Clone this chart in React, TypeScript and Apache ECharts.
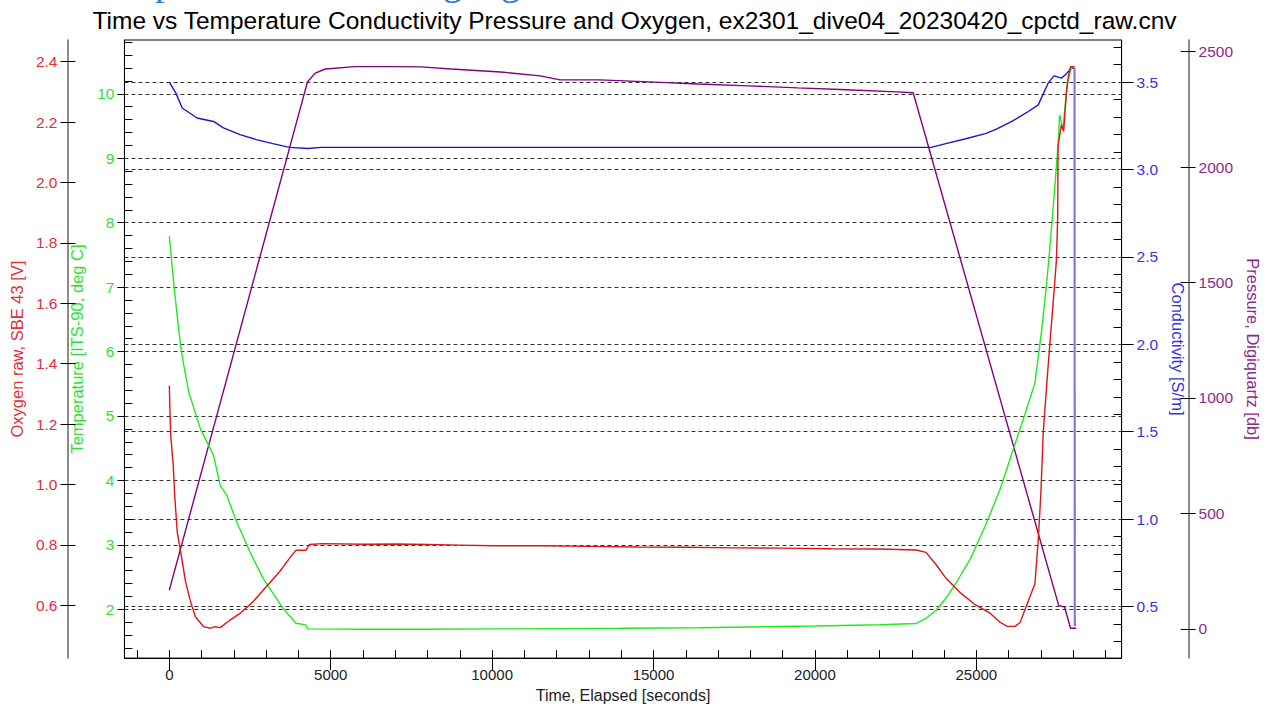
import React, { useEffect, useRef } from "react";
import * as echarts from "echarts";

// ---------- texts ----------
const TITLE =
  "Time vs Temperature Conductivity Pressure and Oxygen, ex2301_dive04_20230420_cpctd_raw.cnv";
const HEADER = "Temperature Monitoring log";
const X_NAME = "Time, Elapsed [seconds]";
const O2_NAME = "Oxygen raw, SBE 43 [V]";
const T_NAME = "Temperature [ITS-90, deg C]";
const C_NAME = "Conductivity [S/m]";
const P_NAME = "Pressure, Digiquartz [db]";

// ---------- tick labels ----------
const X_TICKS = [0, 5000, 10000, 15000, 20000, 25000];
const O2_TICKS = [0.6, 0.8, 1.0, 1.2, 1.4, 1.6, 1.8, 2.0, 2.2, 2.4];
const T_TICKS = [2, 3, 4, 5, 6, 7, 8, 9, 10];
const C_TICKS = [0.5, 1.0, 1.5, 2.0, 2.5, 3.0, 3.5];
const P_TICKS = [0, 500, 1000, 1500, 2000, 2500];

// ---------- series data (time in seconds) ----------
const O2_TIME = [
  0, 21, 43, 123, 166, 245, 368, 503, 656, 809, 1063, 1269, 1422, 1576, 1882, 2189,
  2597, 3004, 3415, 3722, 3924, 4231, 4335, 4743, 6000, 7000, 8000, 9000, 10000,
  11500, 13000, 14500, 16000, 17500, 19000, 20500, 22000, 23136, 23440, 23750, 24056,
  24516, 24975, 25435, 25741, 25956, 26200, 26354, 26560, 26814, 26916, 26999, 27070,
  27174, 27274, 27376, 27480, 27520, 27530, 27634, 27705, 27788, 27858, 27919, 28041,
];
const O2_VALUES = [
  1.327, 1.239, 1.162, 1.063, 0.964, 0.843, 0.766, 0.678, 0.612, 0.562, 0.529, 0.524,
  0.529, 0.526, 0.551, 0.573, 0.612, 0.661, 0.711, 0.755, 0.782, 0.782, 0.801, 0.804,
  0.802, 0.803, 0.801, 0.799, 0.797, 0.797, 0.795, 0.793, 0.792, 0.79, 0.789, 0.787,
  0.786, 0.783, 0.775, 0.735, 0.69, 0.64, 0.601, 0.573, 0.543, 0.53, 0.53, 0.543, 0.6,
  0.671, 0.814, 0.971, 1.168, 1.323, 1.461, 1.597, 1.742, 1.884, 2.119, 2.191, 2.169,
  2.297, 2.356, 2.383, 2.383,
];

const T_TIME = [
  0, 144, 245, 350, 450, 603, 963, 1370, 1576, 1778, 2085, 2495, 2904, 3517, 3924, 4231,
  4283, 6000, 8000, 10000, 12000, 14000, 16393, 18000, 20000, 22000, 23136, 23442,
  23749, 24056, 24362, 24822, 25282, 25741, 26200, 26507, 26814, 27020, 27174, 27274,
  27376, 27480, 27530, 27581, 27683, 27818, 27941, 28041,
];
const T_VALUES = [
  7.792, 7.018, 6.554, 6.09, 5.78, 5.369, 4.8, 4.388, 3.924, 3.77, 3.357, 2.893, 2.48,
  2.016, 1.783, 1.757, 1.695, 1.69, 1.69, 1.695, 1.7, 1.705, 1.713, 1.725, 1.74, 1.76,
  1.78, 1.86, 1.98, 2.17, 2.4, 2.79, 3.3, 3.87, 4.57, 5.03, 5.51, 6.317, 7.044, 7.594,
  8.205, 8.875, 9.185, 9.675, 9.443, 10.17, 10.4, 10.42,
];

const C_TIME = [
  0, 204, 399, 858, 1370, 1677, 2189, 2698, 3210, 3722, 4300, 4700, 6000, 10000, 15000,
  20000, 23596, 24056, 24669, 25282, 25588, 26099, 26610, 26917, 27222, 27406, 27632,
  27785, 27938, 28041, 28050,
];
const C_VALUES = [
  3.5, 3.437, 3.352, 3.295, 3.275, 3.238, 3.2, 3.171, 3.148, 3.127, 3.12, 3.127, 3.127,
  3.127, 3.127, 3.127, 3.127, 3.148, 3.176, 3.205, 3.228, 3.275, 3.332, 3.37, 3.494,
  3.536, 3.523, 3.547, 3.58, 3.58, 0.387,
];

const P_TIME = [
  0, 4283, 4519, 4835, 5754, 6796, 7806, 8730, 10263, 11490, 12100, 13330, 14860, 16393,
  17925, 19460, 20990, 22520, 23043, 27550, 27734, 27918, 28093,
];
const P_VALUES = [
  168, 2370, 2407, 2425, 2435, 2435, 2434, 2425, 2412, 2395, 2378, 2378, 2369, 2360,
  2352, 2343, 2335, 2326, 2322, 102, 94, 3, 3,
];

const pairs = (xs: number[], ys: number[]) => xs.map((x, i) => [x, ys[i]]);

const FONT = "'Liberation Sans', Arial, sans-serif";
const RED = "#e01515";
const RED_TXT = "#e0303a";
const GREEN = "#22ea22";
const GREEN_TXT = "#33dd33";
const BLUE = "#1818c8";
const BLUE_LIGHT = "#7c7ce0";
const BLUE_TXT = "#3535e0";
const PURPLE = "#800080";
const PURPLE_TXT = "#8b2a8b";
const LBL = 15.5;
const NAME_FS = 16.5;

const X_MIN = -1390;
const X_MAX = 29500;
const O2_MIN = 0.425;
const O2_MAX = 2.4716;
const T_MIN = 1.242;
const T_MAX = 10.836;
const C_MIN = 0.205;
const C_MAX = 3.741;
const P_MIN = -126.5;
const P_MAX = 2550.5;

const dashed = { show: true, lineStyle: { type: [4, 3], color: "#333", width: 1 } };
const plain = (v: number) => String(v);

export default function App() {
  const ref = useRef<HTMLDivElement>(null);

  useEffect(() => {
    if (!ref.current) return;
    const chart = echarts.init(ref.current, undefined, { renderer: "svg" });

    const inner = (extra: any) => ({
      type: "value",
      axisLine: { show: false, onZero: false },
      axisLabel: { show: false },
      splitLine: { show: false },
      ...extra,
    });

    const condPts = pairs(C_TIME, C_VALUES);

    const option: any = {
      animation: false,
      backgroundColor: "#fff",
      title: {
        text: TITLE,
        left: "center",
        top: 3,
        textStyle: { fontFamily: FONT, fontSize: 24.5, fontWeight: "normal", color: "#000" },
      },
      graphic: [
        {
          type: "text",
          left: 88,
          top: -37,
          silent: true,
          style: {
            text: HEADER,
            font: "38px 'Liberation Serif', 'Times New Roman', serif",
            fill: "#2a7bd0",
          },
        },
      ],
      grid: {
        left: 120,
        right: 141.3,
        top: 40,
        bottom: 48,
        show: true,
        borderColor: "#000",
        borderWidth: 1,
        backgroundColor: "transparent",
      },
      xAxis: [
        {
          type: "value",
          min: X_MIN,
          max: X_MAX,
          splitNumber: 5,
          position: "bottom",
          axisLine: { show: true, onZero: false, lineStyle: { color: "#000", width: 1 } },
          axisTick: { show: true, inside: false, length: 12, customValues: X_TICKS, lineStyle: { color: "#000" } },
          axisLabel: {
            customValues: X_TICKS,
            color: "#222",
            fontSize: 15,
            fontFamily: FONT,
            margin: 9,
            formatter: plain,
          },
          splitLine: { show: false },
          name: X_NAME,
          nameLocation: "middle",
          nameGap: 26,
          nameTextStyle: { color: "#222", fontSize: 16, fontFamily: FONT },
        },
        inner({
          min: X_MIN,
          max: X_MAX,
          splitNumber: 5,
          position: "bottom",
          axisTick: { show: true, inside: true, length: 8, customValues: X_TICKS, lineStyle: { color: "#000" } },
          minorTick: { show: true, splitNumber: 5, length: 8, lineStyle: { color: "#000" } },
        }),
      ],
      yAxis: [
        // 0 oxygen (red)
        {
          type: "value",
          position: "left",
          offset: 57,
          min: O2_MIN,
          max: O2_MAX,
          splitNumber: 10,
          axisLine: { show: true, onZero: false, lineStyle: { color: "#666", width: 1.5 } },
          axisTick: { show: true, inside: false, length: 7, customValues: O2_TICKS, lineStyle: { color: "#000" } },
          axisLabel: {
            customValues: O2_TICKS,
            color: RED_TXT,
            fontSize: LBL,
            fontFamily: FONT,
            margin: 10,
            formatter: (v: number) => v.toFixed(1),
          },
          splitLine: { show: false },
          name: O2_NAME,
          nameLocation: "middle",
          nameGap: 33,
          nameTextStyle: { color: RED_TXT, fontSize: NAME_FS, fontFamily: FONT },
        },
        // 1 oxygen inner ticks
        inner({
          position: "left",
          offset: 57,
          min: O2_MIN,
          max: O2_MAX,
          splitNumber: 10,
          axisTick: { show: true, inside: true, length: 8, customValues: O2_TICKS, lineStyle: { color: "#000" } },
        }),
        // 2 temperature (green)
        {
          type: "value",
          position: "left",
          offset: 0,
          min: T_MIN,
          max: T_MAX,
          splitNumber: 10,
          axisLine: { show: true, onZero: false, lineStyle: { color: "#000", width: 1 } },
          axisTick: { show: true, inside: false, length: 7, customValues: T_TICKS, lineStyle: { color: "#000" } },
          axisLabel: {
            customValues: T_TICKS,
            color: GREEN_TXT,
            fontSize: LBL,
            fontFamily: FONT,
            margin: 10,
            formatter: plain,
          },
          splitLine: dashed,
          name: T_NAME,
          nameLocation: "middle",
          nameGap: 39,
          nameTextStyle: { color: GREEN_TXT, fontSize: NAME_FS, fontFamily: FONT },
        },
        // 3 temperature minor ticks
        inner({
          position: "left",
          offset: 0,
          min: T_MIN,
          max: T_MAX,
          splitNumber: 10,
          axisTick: { show: false, inside: true },
          minorTick: { show: true, splitNumber: 5, length: 8, lineStyle: { color: "#000" } },
        }),
        // 4 conductivity (blue)
        {
          type: "value",
          position: "right",
          offset: 0,
          min: C_MIN,
          max: C_MAX,
          splitNumber: 7,
          axisLine: { show: true, onZero: false, lineStyle: { color: "#000", width: 1 } },
          axisTick: { show: true, inside: false, length: 12, customValues: C_TICKS, lineStyle: { color: "#000" } },
          axisLabel: {
            customValues: C_TICKS,
            color: BLUE_TXT,
            fontSize: LBL,
            fontFamily: FONT,
            margin: 15,
            formatter: (v: number) => v.toFixed(1),
          },
          splitLine: dashed,
          name: C_NAME,
          nameLocation: "middle",
          nameRotate: -90,
          nameGap: 40,
          nameTextStyle: { color: BLUE_TXT, fontSize: NAME_FS, fontFamily: FONT },
        },
        // 5 conductivity minor ticks
        inner({
          position: "right",
          offset: 0,
          min: C_MIN,
          max: C_MAX,
          splitNumber: 7,
          axisTick: { show: false, inside: true },
          minorTick: { show: true, splitNumber: 5, length: 8, lineStyle: { color: "#000" } },
        }),
        // 6 pressure (purple)
        {
          type: "value",
          position: "right",
          offset: 67,
          min: P_MIN,
          max: P_MAX,
          splitNumber: 5,
          axisLine: { show: true, onZero: false, lineStyle: { color: "#666", width: 1.5 } },
          axisTick: { show: true, inside: false, length: 7, customValues: P_TICKS, lineStyle: { color: "#000" } },
          axisLabel: {
            customValues: P_TICKS,
            color: PURPLE_TXT,
            fontSize: LBL,
            fontFamily: FONT,
            margin: 10,
            formatter: plain,
          },
          splitLine: { show: false },
          name: P_NAME,
          nameLocation: "middle",
          nameRotate: -90,
          nameGap: 46,
          nameTextStyle: { color: PURPLE_TXT, fontSize: NAME_FS, fontFamily: FONT },
        },
        // 7 pressure inner ticks
        inner({
          position: "right",
          offset: 67,
          min: P_MIN,
          max: P_MAX,
          splitNumber: 5,
          axisTick: { show: true, inside: true, length: 8, customValues: P_TICKS, lineStyle: { color: "#000" } },
        }),
      ],
      series: [
        {
          name: P_NAME,
          type: "line",
          xAxisIndex: 0,
          yAxisIndex: 6,
          showSymbol: false,
          data: pairs(P_TIME, P_VALUES),
          lineStyle: { color: PURPLE, width: 1.4 },
          itemStyle: { color: PURPLE },
        },
        {
          name: C_NAME + " drop",
          type: "line",
          xAxisIndex: 0,
          yAxisIndex: 4,
          showSymbol: false,
          data: condPts.slice(-2),
          lineStyle: { color: BLUE_LIGHT, width: 2.2 },
          itemStyle: { color: BLUE_LIGHT },
        },
        {
          name: C_NAME,
          type: "line",
          xAxisIndex: 0,
          yAxisIndex: 4,
          showSymbol: false,
          data: condPts.slice(0, -1),
          lineStyle: { color: BLUE, width: 1.4 },
          itemStyle: { color: BLUE },
        },
        {
          name: T_NAME,
          type: "line",
          xAxisIndex: 0,
          yAxisIndex: 2,
          showSymbol: false,
          data: pairs(T_TIME, T_VALUES),
          lineStyle: { color: GREEN, width: 1.4 },
          itemStyle: { color: GREEN },
        },
        {
          name: O2_NAME,
          type: "line",
          xAxisIndex: 0,
          yAxisIndex: 0,
          showSymbol: false,
          data: pairs(O2_TIME, O2_VALUES),
          lineStyle: { color: RED, width: 1.4 },
          itemStyle: { color: RED },
        },
      ],
    };

    chart.setOption(option);
    return () => chart.dispose();
  }, []);

  return (
    <div
      ref={ref}
      style={{ position: "absolute", left: 0, top: 0, width: 1269, height: 708, background: "#fff" }}
    />
  );
}
